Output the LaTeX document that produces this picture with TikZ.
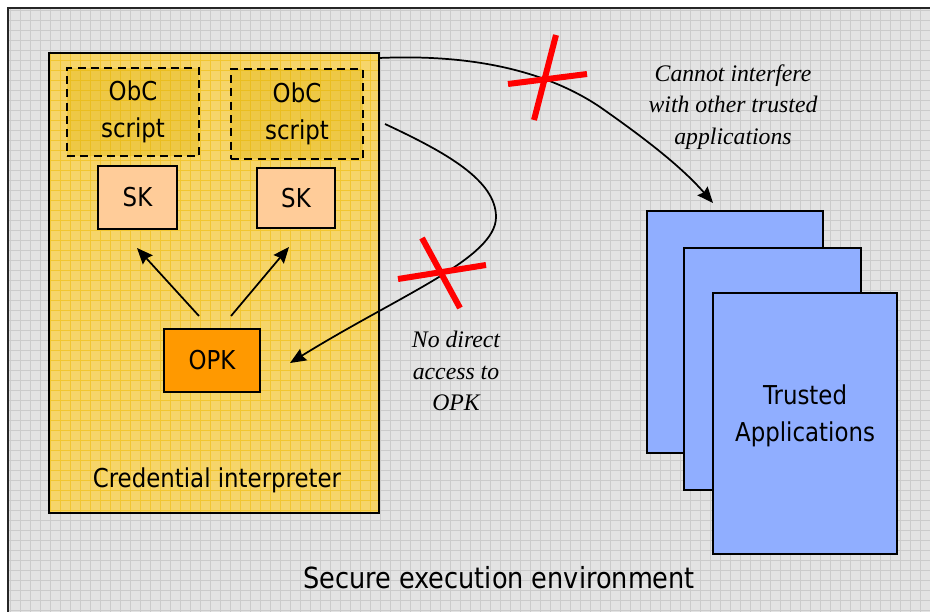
\documentclass[tikz,border=0pt]{standalone}
\usepackage{fontspec}
\usetikzlibrary{arrows.meta,calc}
\newfontfamily\tah[FakeStretch=0.88]{DejaVu Sans}
\newfontfamily\tim{Liberation Serif}

\definecolor{envbg}{HTML}{E3E3E3}
\definecolor{envgrid}{HTML}{CBCBCB}
\definecolor{cibg}{HTML}{F6D56A}
\definecolor{cigrid}{HTML}{F2C631}
\definecolor{obcfill}{HTML}{E0B000}
\definecolor{skfill}{HTML}{FFCC99}
\definecolor{opkfill}{HTML}{FF9900}
\definecolor{tafill}{HTML}{90AEFF}
\definecolor{crossred}{HTML}{FF0000}

\tikzset{
  box/.style={draw=black, line width=1.5pt, inner sep=0pt, outer sep=0pt, align=center,
              font=\tah\fontsize{19.5}{27.75}\selectfont},
  scriptbox/.style={box, dashed, dash pattern=on 6pt off 4pt, fill=obcfill, fill opacity=0.35,
              text opacity=1, draw opacity=1},
  keybox/.style={box, fill=skfill},
  opkbox/.style={box, fill=opkfill},
  page/.style={box, fill=tafill},
  note/.style={font=\tim\itshape\fontsize{17.8}{23.6}\selectfont, align=center},
  arr/.style={-{Stealth[length=12pt,width=10pt,inset=1.5pt]}, line width=1.3pt},
  cross/.style={crossred, line width=4.5pt},
}

\begin{document}
\begin{tikzpicture}[x=0.75pt, y=-0.75pt]
\useasboundingbox (0,0) rectangle (930,611);

% secure execution environment: grey gridded panel
\fill[envbg] (8,8) rectangle (940,620);
\begin{scope}
  \clip (8,8) rectangle (930,611);
  \draw[envgrid, line width=0.6pt, step=7.5pt] (8,8) grid (940,620);
\end{scope}
\draw[line width=1.6pt, black!85] (940,8) -- (8,8) -- (8,620);

% credential interpreter
\node[box, fill=cibg, minimum width=247.5pt, minimum height=345pt] (ci) at (214,283) {};
\begin{scope}
  \clip (ci.south west) rectangle (ci.north east);
  \draw[cigrid, line width=0.45pt, step=7.5pt] (ci.south west) grid (ci.north east);
\end{scope}
\node[box, minimum width=247.5pt, minimum height=345pt] at (214,283) {};
\node[font=\tah\fontsize{19.5}{24}\selectfont] (cilabel) at (217,480) {Credential interpreter};

% scripts and keys
\node[scriptbox, minimum width=99pt, minimum height=66pt] (obc1) at (133,112) {ObC\\script};
\node[scriptbox, minimum width=99pt, minimum height=67.5pt] (obc2) at (297,114) {ObC\\script};
\node[keybox, minimum width=59.25pt, minimum height=47.25pt] (sk1) at (137.5,197.5) {SK};
\node[keybox, minimum width=58.5pt, minimum height=45pt] (sk2) at (296,198) {SK};
\node[opkbox, minimum width=72pt, minimum height=47.25pt] (opk) at (212,360.5) {OPK};

\draw[arr] ($(opk.north)+(-13,-13)$) -- ($(sk1.south)+(-0.5,19)$);
\draw[arr] ($(opk.north)+(19,-13)$) -- ($(sk2.south)+(-7,19)$);

% trusted applications stack
\node[page, minimum width=132pt, minimum height=181.5pt] (ta1) at (735,332) {};
\node[page, minimum width=132.75pt, minimum height=181.5pt] (ta2) at (772.5,369) {};
\node[page, minimum width=138pt, minimum height=195.75pt] (ta3) at (805,423.5) {};
\node[font=\tah\fontsize{19.5}{27.75}\selectfont, align=center] (talabel) at (805,416) {Trusted\\Applications};

% blocked paths
\coordinate (tatip) at (713,203);
\coordinate (obcout) at (385,124);
\coordinate (opktip) at (290,363);

\draw[arr] ($(ci.north east)+(0,5)$) .. controls (470,54) and (545,70) .. (600,107)
           .. controls (640,135) and (680,165) .. (tatip);
\draw[arr] (obcout) .. controls (445,152) and (496,180) .. (496,217)
           .. controls (496,258) and (400,295) .. (opktip);

\draw[cross] (508,84) -- (587,74);
\draw[cross] (556,35) -- (534,120);
\draw[cross] (398,279) -- (486,265);
\draw[cross] (422,238) -- (460,308);

% annotations
\node[note] (n1) at (733,107) {Cannot interfere\\with other trusted\\applications};
\node[note] (n2) at (456,371) {No direct\\access to\\OPK};
\node[font=\tah\fontsize{21.8}{26}\selectfont] (env) at (499,578) {Secure execution environment};
\end{tikzpicture}
\end{document}
